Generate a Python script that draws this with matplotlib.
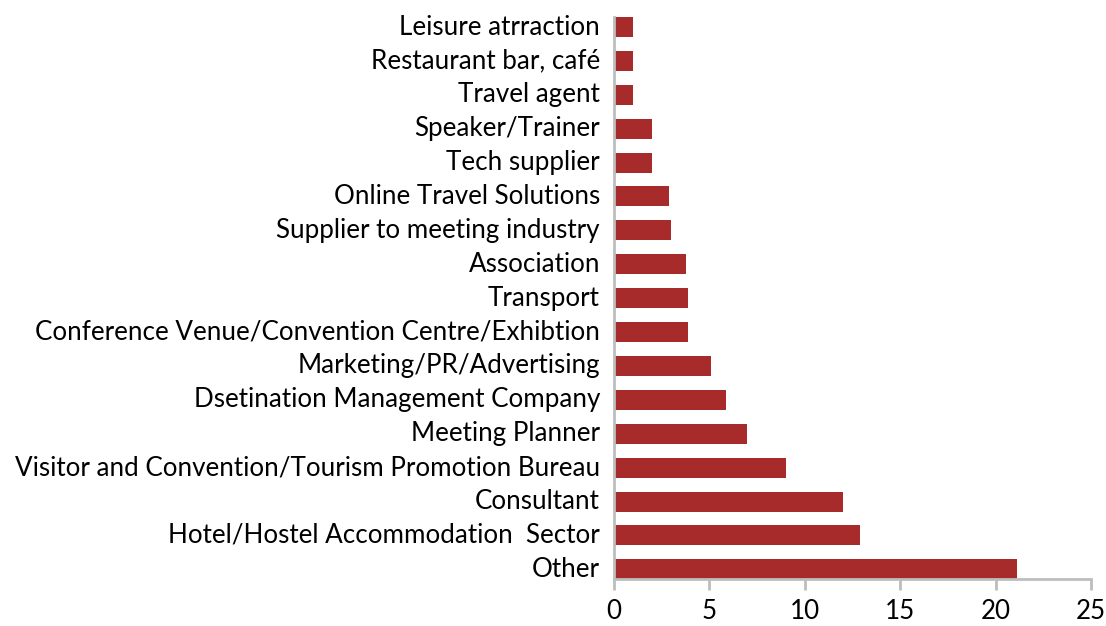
import matplotlib
matplotlib.use("Agg")
import matplotlib.pyplot as plt

# categories, top to bottom as in the chart
categories = [
    "Leisure atrraction",
    "Restaurant bar, café",
    "Travel agent",
    "Speaker/Trainer",
    "Tech supplier",
    "Online Travel Solutions",
    "Supplier to meeting industry",
    "Association",
    "Transport",
    "Conference Venue/Convention Centre/Exhibtion",
    "Marketing/PR/Advertising",
    "Dsetination Management Company",
    "Meeting Planner",
    "Visitor and Convention/Tourism Promotion Bureau",
    "Consultant",
    "Hotel/Hostel Accommodation  Sector",
    "Other",
]
values = [1, 1, 1, 2, 2, 2.9, 3.0, 3.8, 3.9, 3.9, 5.1, 5.9, 7, 9, 12, 12.9, 21.1]
xticks = [0, 5, 10, 15, 20, 25]

plt.rcParams['font.family'] = ['Lato', 'DejaVu Sans']

fig = plt.figure(figsize=(11.06, 6.26), dpi=100)
ax = fig.add_axes([0.555, 0.0746, 0.4315, 0.8982])

# reverse so first category sits on top
pos = list(range(len(categories)))[::-1]
ax.barh(pos, values, height=0.59, color='#A82B2B')

ax.set_ylim(-0.295, len(categories) - 1 + 0.295)
ax.set_xlim(0, 25)
ax.set_xticks(xticks)
ax.set_yticks(pos)
ax.set_yticklabels(categories)
for lab in ax.get_yticklabels():
    lab.set_verticalalignment('center')
    lab.set_y(lab.get_position()[1])

grey = '#BDBDBD'
for s in ['top', 'right']:
    ax.spines[s].set_visible(False)
for s in ['left', 'bottom']:
    ax.spines[s].set_color(grey)
    ax.spines[s].set_linewidth(2)

ax.tick_params(axis='y', length=0, pad=10, labelsize=18.7)
ax.tick_params(axis='x', length=8, width=2, color=grey, direction='out', pad=6, labelsize=18.7)

fig.savefig("out.png", dpi=100)
